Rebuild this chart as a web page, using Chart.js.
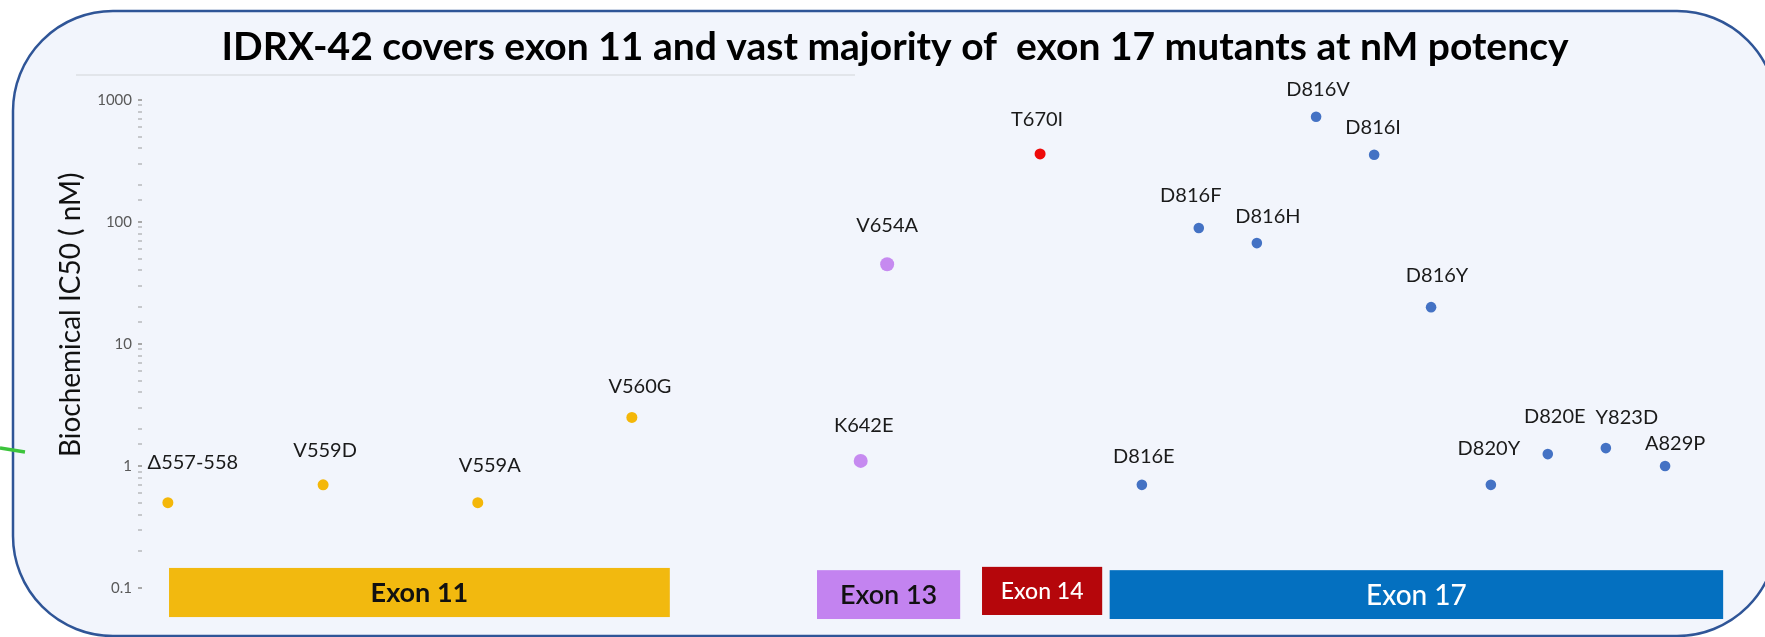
<!DOCTYPE html>
<html>
<head>
<meta charset="utf-8">
<script src="https://cdn.jsdelivr.net/npm/chart.js@4.4.1/dist/chart.umd.min.js"></script>
<style>
  html, body { margin: 0; padding: 0; background: #fff; }
  #wrap { width: 1765px; height: 637px; }
</style>
</head>
<body>
<div id="wrap"><canvas id="chart" width="1765" height="637"></canvas></div>
<script>
// mutants
const mutants = ['Δ557-558','V559D','V559A','V560G','K642E','V654A','T670I','D816E','D816F','D816H','D816V','D816I','D816Y','D820Y','D820E','Y823D','A829P'];
const xPos    = [0.45, 3.15, 5.84, 8.52, 12.5, 12.96, 15.62, 17.39, 18.38, 19.39, 20.42, 21.43, 22.42, 23.46, 24.45, 25.46, 26.49];
const ic50    = [0.5, 0.7, 0.5, 2.5, 1.1, 45, 360, 0.7, 89, 67, 726, 355, 20, 0.7, 1.25, 1.4, 1.0];
const exonOf  = [11, 11, 11, 11, 13, 13, 14, 17, 17, 17, 17, 17, 17, 17, 17, 17, 17];

// exon bands along the bottom
const exonNames  = ['Exon 11', 'Exon 13', 'Exon 14', 'Exon 17'];
const exonIds    = [11, 13, 14, 17];
const exonStart  = [0.47, 11.74, 14.61, 16.83];
const exonEnd    = [9.18, 14.23, 16.70, 27.50];
const exonTop    = [0.146, 0.140, 0.149, 0.140];
const exonBottom = [0.0578, 0.0557, 0.0601, 0.0557];

const yTicks = [0.1, 1, 10, 100, 1000];
const yTitle = 'Biochemical IC50 ( nM)';

// styling
const pointStyle = {
  11: { color: '#f4b709', r: 5.5 },
  13: { color: '#c68af0', r: 7 },
  14: { color: '#ee0a0a', r: 5.5 },
  17: { color: '#4472c4', r: 5.3 }
};
const bandStyle = [
  { fill: '#f2b90f', text: '#111', font: 'bold 27px Lato' },
  { fill: '#c383f0', text: '#111', font: '600 27px Lato' },
  { fill: '#b5060b', text: '#fff', font: '500 23px Lato' },
  { fill: '#0470c0', text: '#fff', font: '500 28px Lato' }
];
// label nudges [dx, dy] relative to the point
const labelNudge = [[25,-40],[2,-34],[12,-37],[8,-31],[3,-35],[0,-39],[-3,-34],[2,-28],[-8,-32],[11,-27],[2,-27],[-1,-27],[6,-32],[-2,-36],[7,-38],[21,-31],[10,-22]];

const datasets = exonIds.map(id => {
  const idx = mutants.map((_, i) => i).filter(i => exonOf[i] === id);
  return {
    label: 'Exon ' + id,
    idx: idx,
    data: idx.map(i => ({ x: xPos[i], y: ic50[i] })),
    backgroundColor: pointStyle[id].color,
    borderWidth: 0,
    pointRadius: pointStyle[id].r,
    pointHoverRadius: pointStyle[id].r,
    clip: false
  };
});

const backdrop = {
  id: 'backdrop',
  beforeDraw(chart) {
    const ctx = chart.ctx;
    ctx.save();
    ctx.fillStyle = '#fff';
    ctx.fillRect(0, 0, chart.width, chart.height);
    // rounded panel
    const x0 = 13, y0 = 11, x1 = 1777, y1 = 636, r = 100;
    ctx.beginPath();
    ctx.moveTo(x0 + r, y0);
    ctx.lineTo(x1 - r, y0);
    ctx.arcTo(x1, y0, x1, y0 + r, r);
    ctx.lineTo(x1, y1 - r);
    ctx.arcTo(x1, y1, x1 - r, y1, r);
    ctx.lineTo(x0 + r, y1);
    ctx.arcTo(x0, y1, x0, y1 - r, r);
    ctx.lineTo(x0, y0 + r);
    ctx.arcTo(x0, y0, x0 + r, y0, r);
    ctx.closePath();
    ctx.fillStyle = '#f2f5fc';
    ctx.fill();
    ctx.lineWidth = 2.5;
    ctx.strokeStyle = '#2f5597';
    ctx.stroke();
    // thin rule under the title
    ctx.beginPath();
    ctx.moveTo(76, 75);
    ctx.lineTo(855, 75);
    ctx.lineWidth = 1.5;
    ctx.strokeStyle = '#dcdfe4';
    ctx.stroke();
    // green stub at the left edge
    ctx.beginPath();
    ctx.moveTo(0, 448);
    ctx.lineTo(25, 452);
    ctx.lineWidth = 3.5;
    ctx.strokeStyle = '#3cc43c';
    ctx.stroke();
    ctx.restore();
  }
};

const exonBands = {
  id: 'exonBands',
  beforeDatasetsDraw(chart) {
    const ctx = chart.ctx, xs = chart.scales.x, ys = chart.scales.y;
    ctx.save();
    exonNames.forEach((name, i) => {
      const l = xs.getPixelForValue(exonStart[i]);
      const rgt = xs.getPixelForValue(exonEnd[i]);
      const t = ys.getPixelForValue(exonTop[i]);
      const b = ys.getPixelForValue(exonBottom[i]);
      ctx.fillStyle = bandStyle[i].fill;
      ctx.fillRect(l, t, rgt - l, b - t);
      ctx.fillStyle = bandStyle[i].text;
      ctx.font = bandStyle[i].font;
      ctx.textAlign = 'center';
      ctx.textBaseline = 'middle';
      ctx.fillText(name, (l + rgt) / 2, (t + b) / 2 + 1);
    });
    // y axis title, sitting a little above the middle of the axis as in the slide
    const mid = ys.getPixelForValue(Math.sqrt(ys.min * ys.max * 3));
    ctx.translate(71, mid);
    ctx.rotate(-Math.PI / 2);
    ctx.font = '28px Lato';
    ctx.fillStyle = '#111';
    ctx.fillText(yTitle, 0, 0);
    ctx.restore();
  }
};

const pointLabels = {
  id: 'pointLabels',
  afterDatasetsDraw(chart) {
    const ctx = chart.ctx;
    ctx.save();
    ctx.font = '20px Lato';
    ctx.fillStyle = '#1a1a1a';
    ctx.textAlign = 'center';
    ctx.textBaseline = 'middle';
    chart.data.datasets.forEach((ds, d) => {
      chart.getDatasetMeta(d).data.forEach((pt, j) => {
        const i = ds.idx[j];
        ctx.fillText(mutants[i], pt.x + labelNudge[i][0], pt.y + labelNudge[i][1]);
      });
    });
    ctx.restore();
  }
};

new Chart(document.getElementById('chart'), {
  type: 'scatter',
  data: { datasets },
  plugins: [backdrop, exonBands, pointLabels],
  options: {
    responsive: false,
    animation: false,
    events: [],
    layout: { padding: { left: 45, right: 20, top: 0, bottom: 49 } },
    plugins: {
      legend: { display: false },
      tooltip: { enabled: false },
      title: {
        display: true,
        text: 'IDRX-42 covers exon 11 and vast majority of  exon 17 mutants at nM potency',
        color: '#000',
        font: { family: 'Lato', size: 39, weight: 'bold' },
        padding: { top: 24, bottom: 29 }
      }
    },
    scales: {
      x: { type: 'linear', display: false, min: 0, max: 27.88 },
      y: {
        type: 'logarithmic',
        min: 0.1,
        max: 1000,
        afterFit(scale) { scale.width = 97; },
        border: { display: false },
        grid: {
          drawOnChartArea: false,
          drawTicks: true,
          tickLength: 4,
          lineWidth: 2,
          color: ctx => yTicks.includes(ctx.tick && ctx.tick.value) ? '#a8a8a8' : '#c6c8cc'
        },
        ticks: {
          autoSkip: false,
          padding: 6,
          color: '#595959',
          font: { family: 'Lato', size: 15 },
          callback: v => yTicks.includes(v) ? String(v) : ''
        },
        title: { display: false }
      }
    }
  }
});
</script>
</body>
</html>
